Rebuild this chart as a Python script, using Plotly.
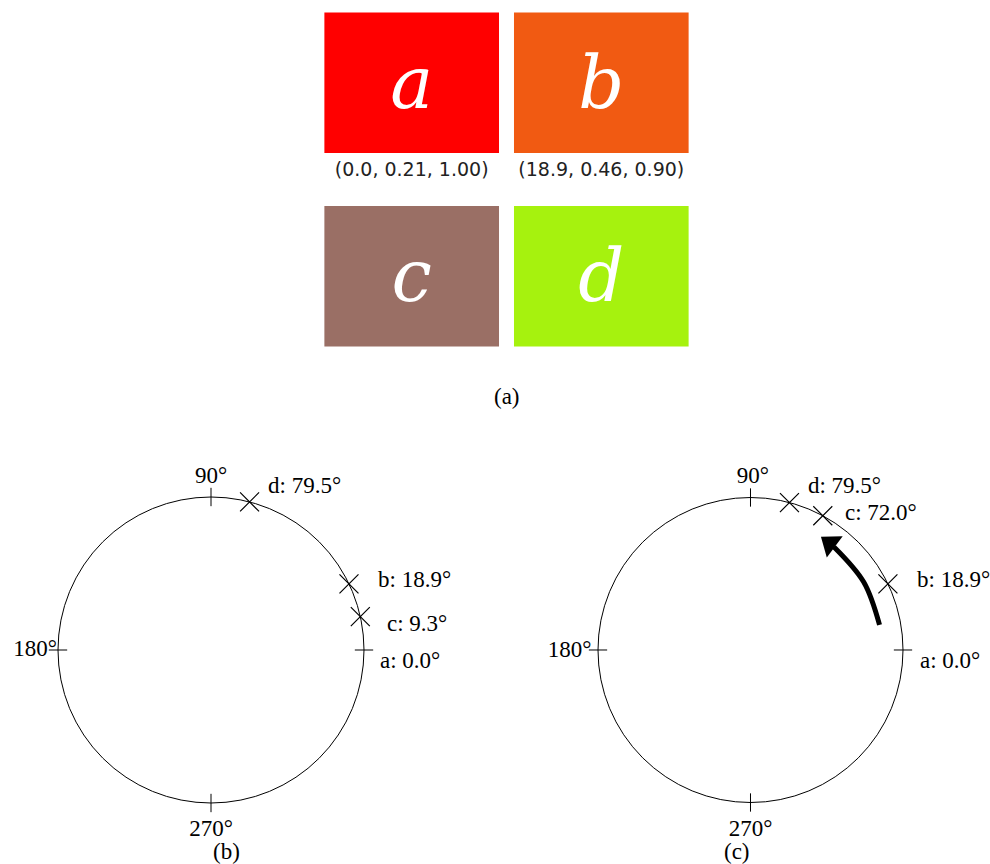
import plotly.graph_objects as go

# ---------------- data ----------------
# (a) colour swatches
swatch_names = ["a", "b", "c", "d"]
swatch_hue = [0.0, 18.9, 9.3, 79.5]
swatch_sat = [0.21, 0.46, 0.47, 0.82]
swatch_val = [1.00, 0.90, 0.20, 0.90]
swatch_colors = ["#FF0000", "#F15A12", "#9A6F65", "#A6F20E"]
swatch_col = [0, 1, 0, 1]
swatch_row = [1, 1, 0, 0]

# hue circle reference ticks
ref_ticks = [0, 90, 180, 270]
ref_tick_text = ["", "90°", "180°", "270°"]

# (b) original hues: label value and angle where the cross is drawn
b_names = ["a", "b", "c", "d"]
b_hues = [0.0, 18.9, 9.3, 79.5]
b_drawn = [None, 25.6, 12.6, 75.4]

# (c) after rotating c
c_names = ["a", "b", "c", "d"]
c_hues = [0.0, 18.9, 72.0, 79.5]
c_drawn = [None, 25.7, 61.7, 75.2]

# curved arrow path (angle, radius) in panel (c)
arrow_theta = [11, 31, 51]
arrow_r = [0.862, 0.866, 0.870]
arrow_head_theta = 53.2
arrow_head_r = 0.872

# ---------------- layout helpers ----------------
W, H = 990, 864
SERIF = "Liberation Serif"
TXT = 23
RMAX = 1.25  # radial range so that labels around the unit circle stay inside

# label anchor placements (r, theta) relative to each circle
b_label_pos = {"a": (1.107, -4.0), "b": (1.181, 22.4), "c": (1.162, 8.1), "d": (1.129, 70.7)}
c_label_pos = {"a": (1.114, -4.0), "b": (1.182, 22.5), "c": (1.086, 55.2), "d": (1.133, 70.6)}
b_tick_label_pos = {90: (1.131, 90), 180: (1.15, 180), 270: (1.176, 270)}
c_tick_label_pos = {90: (1.135, 89.2), 180: (1.187, 180.5), 270: (1.18, 270)}

fig = go.Figure()

# ---------- swatches ----------
bw, bh = 0.921, 0.727
fig.add_trace(go.Bar(
    x=swatch_col, y=[bh] * 4, base=[r - bh / 2 for r in swatch_row], width=bw,
    marker=dict(color=swatch_colors, line=dict(width=0)),
    text=[f"<i>{n}</i>" for n in swatch_names], textposition="inside",
    insidetextanchor="middle", textangle=0,
    textfont=dict(family="DejaVu Serif", size=72, color="white"),
    cliponaxis=False, xaxis="x", yaxis="y", hoverinfo="skip",
))
fig.add_trace(go.Scatter(
    x=swatch_col, y=[r - bh / 2 - 0.095 for r in swatch_row], mode="text",
    text=[f"({h:.1f}, {s:.2f}, {v:.2f})" for h, s, v in zip(swatch_hue, swatch_sat, swatch_val)],
    textposition="middle center",
    textfont=dict(family="DejaVu Sans", size=19, color="#222222"),
    cliponaxis=False, xaxis="x", yaxis="y", hoverinfo="skip",
))


def add_circle_panel(polar, names, hues, drawn, label_pos, tick_label_pos):
    # ticks crossing the circle
    tr, tt = [], []
    for t in ref_ticks:
        tr += [0.94, 1.06, None]
        tt += [t, t, None]
    fig.add_trace(go.Scatterpolar(r=tr, theta=tt, mode="lines", line=dict(color="black", width=1),
                                  subplot=polar, cliponaxis=False, hoverinfo="skip"))
    # tick labels
    for t, txt in zip(ref_ticks, ref_tick_text):
        if not txt:
            continue
        rr, th = tick_label_pos[t]
        fig.add_trace(go.Scatterpolar(r=[rr], theta=[th], mode="text", text=[txt],
                                      textposition="middle center",
                                      textfont=dict(family=SERIF, size=TXT, color="black"),
                                      subplot=polar, cliponaxis=False, hoverinfo="skip"))
    # crosses
    mk = [d for d in drawn if d is not None]
    fig.add_trace(go.Scatterpolar(r=[1] * len(mk), theta=mk, mode="markers",
                                  marker=dict(symbol="x-thin", size=19, line=dict(color="black", width=1.2)),
                                  subplot=polar, cliponaxis=False, hoverinfo="skip"))
    # value labels
    for n, h in zip(names, hues):
        rr, th = label_pos[n]
        fig.add_trace(go.Scatterpolar(r=[rr], theta=[th], mode="text", text=[f"{n}: {h:.1f}°"],
                                      textposition="middle right",
                                      textfont=dict(family=SERIF, size=TXT, color="black"),
                                      subplot=polar, cliponaxis=False, hoverinfo="skip"))


add_circle_panel("polar", b_names, b_hues, b_drawn, b_label_pos, b_tick_label_pos)
add_circle_panel("polar2", c_names, c_hues, c_drawn, c_label_pos, c_tick_label_pos)

# curved arrow in (c)
fig.add_trace(go.Scatterpolar(r=arrow_r, theta=arrow_theta, mode="lines",
                              line=dict(color="black", width=5, shape="spline"),
                              subplot="polar2", cliponaxis=False, hoverinfo="skip"))
fig.add_trace(go.Scatterpolar(r=[arrow_head_r], theta=[arrow_head_theta], mode="markers",
                              marker=dict(symbol="triangle-up", size=23, color="black",
                                          angle=-arrow_head_theta, line=dict(width=0)),
                              subplot="polar2", cliponaxis=False, hoverinfo="skip"))

polar_common = dict(
    bgcolor="rgba(0,0,0,0)",
    radialaxis=dict(visible=True, range=[0, RMAX], showline=False, showticklabels=False, ticks="",
                    showgrid=True, tickvals=[1], gridcolor="black", gridwidth=1),
    angularaxis=dict(showline=False, showgrid=False, ticks="", showticklabels=False,
                     rotation=0, direction="counterclockwise"),
)


def polar_domain(cx, cy, rad):
    half = rad * RMAX
    return dict(x=[(cx - half) / W, (cx + half) / W], y=[(H - cy - half) / H, (H - cy + half) / H])


cap_font = dict(family=SERIF, size=TXT, color="black")
fig.update_layout(
    width=W, height=H,
    margin=dict(l=0, r=0, t=0, b=0),
    paper_bgcolor="white", plot_bgcolor="white",
    showlegend=False,
    xaxis=dict(domain=[324 / W, 689 / W], range=[-bw / 2 - 0.002, 1 + bw / 2 + 0.002], visible=False, fixedrange=True),
    yaxis=dict(domain=[517 / H, 852 / H], range=[-bh / 2 - 0.002, 1 + bh / 2 + 0.002], visible=False, fixedrange=True),
    polar=dict(domain=polar_domain(211, 650, 153), **polar_common),
    polar2=dict(domain=polar_domain(750.5, 650, 152.5), **polar_common),
    annotations=[
        dict(text="(a)", x=507 / W, y=(H - 397) / H, xref="paper", yref="paper", showarrow=False,
             yanchor="middle", font=cap_font),
        dict(text="(b)", x=211 / W, y=13 / H, xref="paper", yref="paper", showarrow=False,
             yanchor="middle", font=cap_font),
        dict(text="(c)", x=752 / W, y=13 / H, xref="paper", yref="paper", showarrow=False,
             yanchor="middle", font=cap_font),
    ],
)

fig.write_html("out.html", config={"displayModeBar": False},
               post_script="document.body.style.margin='0';")
